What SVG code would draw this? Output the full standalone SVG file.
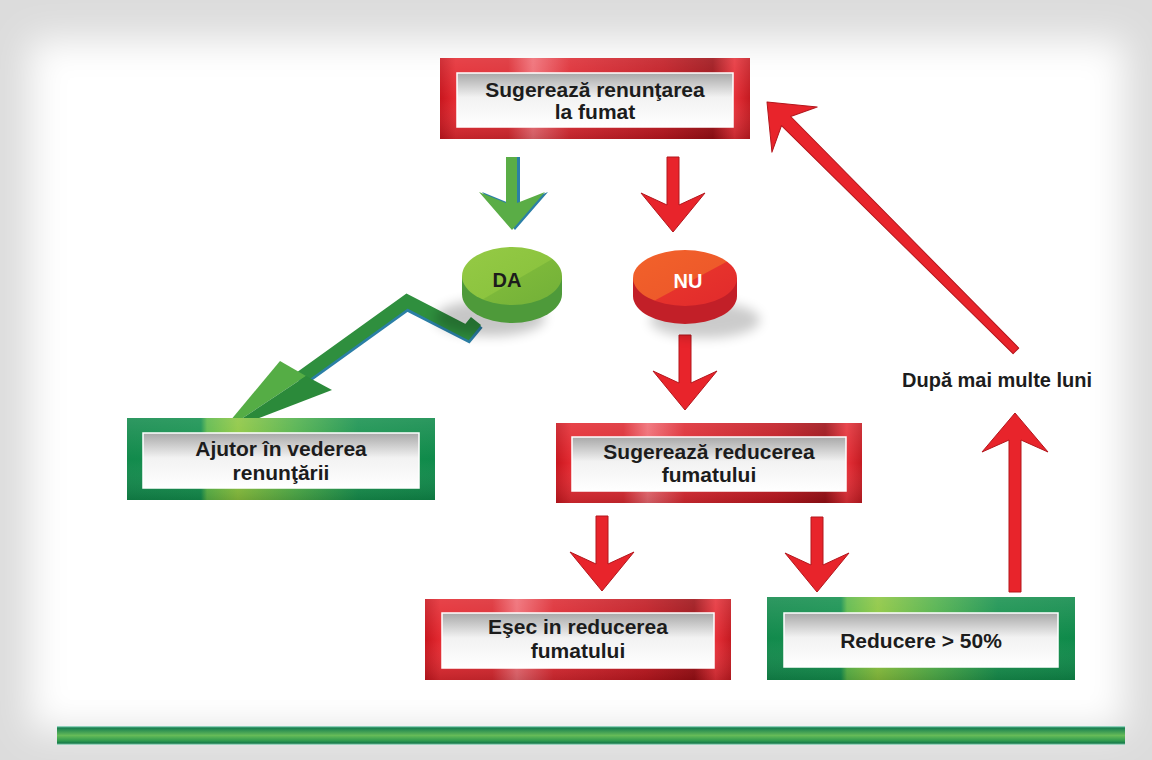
<svg xmlns="http://www.w3.org/2000/svg" width="1152" height="760" viewBox="0 0 1152 760">
<defs>
  <linearGradient id="redH" x1="0" y1="0" x2="1" y2="0">
    <stop offset="0" stop-color="#c8161e"/>
    <stop offset="0.05" stop-color="#e42a31"/>
    <stop offset="0.22" stop-color="#dc2a31"/>
    <stop offset="0.3" stop-color="#ef6a72"/>
    <stop offset="0.42" stop-color="#dd2a32"/>
    <stop offset="0.72" stop-color="#c01820"/>
    <stop offset="0.88" stop-color="#9c0f15"/>
    <stop offset="0.95" stop-color="#e63038"/>
    <stop offset="1" stop-color="#c41a21"/>
  </linearGradient>
  <linearGradient id="greenH" x1="0" y1="0" x2="1" y2="0">
    <stop offset="0" stop-color="#128a4c"/>
    <stop offset="0.24" stop-color="#14904e"/>
    <stop offset="0.26" stop-color="#5cb848"/>
    <stop offset="0.36" stop-color="#8cc63f"/>
    <stop offset="0.55" stop-color="#4fb04a"/>
    <stop offset="0.75" stop-color="#17914e"/>
    <stop offset="1" stop-color="#0f8a4a"/>
  </linearGradient>
  <linearGradient id="shadeV" x1="0" y1="0" x2="0" y2="1">
    <stop offset="0" stop-color="#ffffff" stop-opacity="0.12"/>
    <stop offset="0.5" stop-color="#ffffff" stop-opacity="0"/>
    <stop offset="1" stop-color="#000000" stop-opacity="0.15"/>
  </linearGradient>
  <linearGradient id="innerV" x1="0" y1="0" x2="0" y2="1">
    <stop offset="0" stop-color="#a8a8a8"/>
    <stop offset="0.45" stop-color="#f2f2f2"/>
    <stop offset="1" stop-color="#ffffff"/>
  </linearGradient>
  <linearGradient id="barV" x1="0" y1="0" x2="0" y2="1">
    <stop offset="0" stop-color="#b8eee0"/>
    <stop offset="0.1" stop-color="#177f50"/>
    <stop offset="0.5" stop-color="#66bb58"/>
    <stop offset="0.78" stop-color="#2f9a4e"/>
    <stop offset="0.9" stop-color="#167a4a"/>
    <stop offset="1" stop-color="#c8f0e4"/>
  </linearGradient>
  <linearGradient id="daFace" x1="0" y1="0" x2="1" y2="1">
    <stop offset="0" stop-color="#95ca45"/>
    <stop offset="0.55" stop-color="#8cc43f"/>
    <stop offset="0.56" stop-color="#7cb83a"/>
    <stop offset="1" stop-color="#72b038"/>
  </linearGradient>
  <linearGradient id="nuFace" x1="0" y1="0" x2="1" y2="1">
    <stop offset="0" stop-color="#f2622a"/>
    <stop offset="0.55" stop-color="#ee5a2a"/>
    <stop offset="0.56" stop-color="#e6322c"/>
    <stop offset="1" stop-color="#e12a2c"/>
  </linearGradient>
  <filter id="blur20" x="-20%" y="-20%" width="140%" height="140%">
    <feGaussianBlur stdDeviation="18"/>
  </filter>
  <filter id="blur6" x="-50%" y="-50%" width="200%" height="200%">
    <feGaussianBlur stdDeviation="6"/>
  </filter>
  <style>
    .t { font-family: "Liberation Sans", Arial, sans-serif; font-weight: bold; font-size: 21px; fill: #1c1c1c; text-anchor: middle; }
    .lbl { font-family: "Liberation Sans", Arial, sans-serif; font-weight: bold; font-size: 20px; fill: #1c1c1c; }
    .inner { fill: url(#innerV); stroke: #ffffff; stroke-width: 1.5; }
    .redbox { fill: url(#redH); }
    .greenbox { fill: url(#greenH); }
    .shade { fill: url(#shadeV); }
    .rarrow { fill: #e8242b; stroke: #b3161c; stroke-width: 1; stroke-linejoin: round; }
  </style>
</defs>

<!-- background vignette -->
<rect x="0" y="0" width="1152" height="760" fill="#dcdcdc"/>
<rect x="30" y="40" width="1095" height="690" fill="#ffffff" filter="url(#blur20)"/>
<rect x="70" y="80" width="1020" height="620" fill="#ffffff"/>

<!-- bottom bar -->
<rect x="57" y="726" width="1068" height="19" fill="url(#barV)"/>

<!-- connectors -->
<g id="connectors">
  <!-- green down arrow to DA -->
  <path d="M0,0 L33,38 L6,27 L6,73 L-5,73 L-5,27 L-33,38 Z" transform="translate(515,230) rotate(180)" fill="#2b7fa6"/>
  <path d="M0,0 L33,38 L6,27 L6,73 L-5,73 L-5,27 L-33,38 Z" transform="translate(512,230) rotate(180)" fill="#5aad46"/>
  <!-- red down arrow to NU -->
  <path class="rarrow" d="M0,0 L32,39 L6,27 L6,75 L-6,75 L-6,27 L-32,39 Z" transform="translate(673,232) rotate(180)"/>
  <!-- NU to reducerea -->
  <path class="rarrow" d="M0,0 L32,39 L6,27 L6,75 L-6,75 L-6,27 L-32,39 Z" transform="translate(685,410) rotate(180)"/>
  <!-- reducerea to Esec -->
  <path class="rarrow" d="M0,0 L32,39 L6,27 L6,75 L-6,75 L-6,27 L-32,39 Z" transform="translate(602,591) rotate(180)"/>
  <!-- reducerea to Reducere -->
  <path class="rarrow" d="M0,0 L32,39 L6,27 L6,75 L-6,75 L-6,27 L-32,39 Z" transform="translate(817,592) rotate(180)"/>
  <!-- Reducere up -->
  <path class="rarrow" d="M0,0 L33,39 L6,27 L6,179 L-6,179 L-6,27 L-33,39 Z" transform="translate(1015,413)"/>
  <!-- diagonal back to top -->
  <path class="rarrow" d="M0,0 L32,39 L6.5,27 L4,352 L-4,352 L-6.5,27 L-32,39 Z" transform="translate(767,102) rotate(-45)"/>
  <!-- green zigzag arrow from DA -->
  <polyline points="300,382 407,305 468,336 478,324" fill="none" stroke="#2b7fa6" stroke-width="12" stroke-linejoin="miter"/>
  <polyline points="300,378 407,301 467,332 476,321" fill="none" stroke="#2f8f3e" stroke-width="13" stroke-linejoin="miter"/>
  <polygon points="220,433 280,361 306,376" fill="#55ad45"/>
  <polygon points="220,433 306,376 332,390" fill="#2b8a3a"/>
</g>

<!-- nodes -->
<g id="node-top">
  <rect class="redbox" x="440" y="58" width="310" height="81"/>
  <rect class="shade" x="440" y="58" width="310" height="81"/>
  <rect class="inner" x="457" y="73" width="276" height="54"/>
  <text class="t" x="595" y="97">Sugerează renunţarea</text>
  <text class="t" x="595" y="119">la fumat</text>
</g>

<g id="node-da">
  <ellipse cx="490" cy="318" rx="55" ry="18" fill="#000" opacity="0.22" filter="url(#blur6)"/>
  <path d="M462,276 L462,294 A50,29 0 0 0 562,294 L562,276 Z" fill="#4e9a3a"/>
  <ellipse cx="512" cy="276" rx="50" ry="29" fill="url(#daFace)"/>
  <text class="t" x="507" y="287" style="font-size:20px">DA</text>
</g>

<g id="node-nu">
  <ellipse cx="705" cy="320" rx="55" ry="18" fill="#000" opacity="0.2" filter="url(#blur6)"/>
  <path d="M633,278 L633,296 A52,28 0 0 0 737,296 L737,278 Z" fill="#c21f28"/>
  <ellipse cx="685" cy="278" rx="52" ry="28" fill="url(#nuFace)"/>
  <text class="t" x="688" y="288" style="font-size:20px;fill:#ffffff">NU</text>
</g>

<g id="node-ajutor">
  <rect class="greenbox" x="127" y="418" width="308" height="82"/>
  <rect class="shade" x="127" y="418" width="308" height="82"/>
  <rect class="inner" x="143" y="433" width="276" height="55"/>
  <text class="t" x="281" y="456">Ajutor în vederea</text>
  <text class="t" x="281" y="480">renunţării</text>
</g>

<g id="node-reducerea">
  <rect class="redbox" x="556" y="423" width="306" height="80"/>
  <rect class="shade" x="556" y="423" width="306" height="80"/>
  <rect class="inner" x="572" y="437" width="274" height="54"/>
  <text class="t" x="709" y="459">Sugerează reducerea</text>
  <text class="t" x="709" y="482">fumatului</text>
</g>

<g id="node-esec">
  <rect class="redbox" x="425" y="599" width="306" height="81"/>
  <rect class="shade" x="425" y="599" width="306" height="81"/>
  <rect class="inner" x="442" y="613" width="272" height="55"/>
  <text class="t" x="578" y="634">Eşec in reducerea</text>
  <text class="t" x="578" y="658">fumatului</text>
</g>

<g id="node-reducere50">
  <rect class="greenbox" x="767" y="597" width="308" height="83"/>
  <rect class="shade" x="767" y="597" width="308" height="83"/>
  <rect class="inner" x="784" y="613" width="274" height="54"/>
  <text class="t" x="921" y="648">Reducere &gt; 50%</text>
</g>

<g id="label-luni">
  <text class="lbl" x="902" y="387">După mai multe luni</text>
</g>
</svg>
